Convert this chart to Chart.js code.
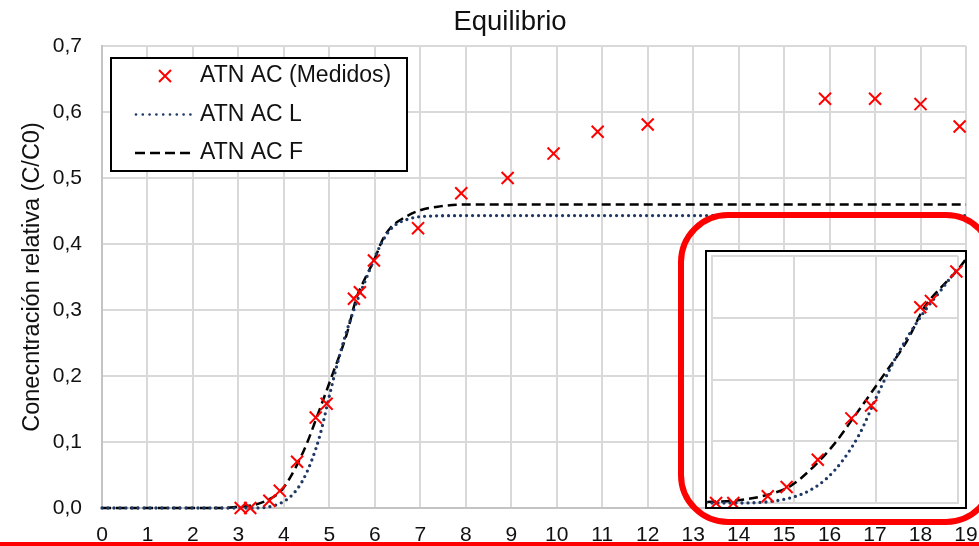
<!DOCTYPE html>
<html><head><meta charset="utf-8">
<script src="https://cdn.jsdelivr.net/npm/chart.js@4.4.0/dist/chart.umd.min.js"></script>
<style>
html,body{margin:0;padding:0;background:#fff;overflow:hidden;width:979px;height:546px;}
#wrap{position:relative;width:979px;height:546px;overflow:hidden;}
#main{position:absolute;left:0;top:0;}
#insetBox{position:absolute;left:705px;top:250px;width:262px;height:259px;border:2px solid #000;box-sizing:border-box;background:#fff;}
#inset{position:absolute;left:0;top:0;}
#redRect{position:absolute;left:678px;top:212px;width:318px;height:313px;border:6.5px solid #ff0000;border-radius:50px;box-sizing:border-box;}
#redLine{position:absolute;left:0;top:542px;width:979px;height:4px;background:#ff0000;}
</style></head>
<body><div id="wrap">
<canvas id="main" width="979" height="546"></canvas>
<div id="insetBox"><canvas id="inset" width="258" height="255"></canvas></div>
<div id="redRect"></div>
<div id="redLine"></div>
</div>
<script>
// ---- data ----
const measX = [3.05, 3.26, 3.68, 3.91, 4.29, 4.70, 4.94, 5.54, 5.67, 5.98, 6.95, 7.90, 8.92, 9.93, 10.90, 12.00, 15.90, 17.00, 18.00, 18.86];
const measY = [0.000, 0.000, 0.011, 0.026, 0.070, 0.137, 0.158, 0.317, 0.327, 0.375, 0.424, 0.477, 0.500, 0.537, 0.570, 0.581, 0.620, 0.620, 0.612, 0.578];

const lX = [0, 3.0, 3.3, 3.6, 3.8, 4.0, 4.2, 4.4, 4.6, 4.8, 5.0, 5.2, 5.4, 5.6, 5.8, 6.0, 6.2, 6.4, 6.7, 7.1, 8.0, 19];
const lY = [0, 0.000, 0.000, 0.001, 0.004, 0.010, 0.021, 0.040, 0.070, 0.112, 0.170, 0.225, 0.272, 0.312, 0.346, 0.380, 0.408, 0.426, 0.437, 0.442, 0.443, 0.443];

const fX = [0, 2.6, 3.0, 3.3, 3.67, 3.95, 4.24, 4.5, 4.72, 5.05, 5.38, 5.59, 5.8, 5.98, 6.18, 6.35, 6.55, 6.99, 7.43, 8.0, 19];
const fY = [0, 0.000, 0.002, 0.004, 0.013, 0.027, 0.059, 0.097, 0.137, 0.199, 0.263, 0.317, 0.350, 0.375, 0.408, 0.425, 0.436, 0.451, 0.457, 0.460, 0.460];

const seriesNames = ['ATN AC (Medidos)', 'ATN AC L', 'ATN AC F'];
const chartTitle = 'Equilibrio';
const yAxisTitle = 'Conecntración relativa (C/C0)';
const xRange = [0, 19];
const yRange = [0, 0.7];
const insetXRange = [3, 6];
const insetYRange = [0, 0.4];

// ---- helpers ----
const FONT = "'Liberation Sans', Arial, sans-serif";
const pts = (xs, ys) => xs.map((x, i) => ({x: x, y: ys[i]}));
const RED = '#ff0000', NAVY = '#1f3864', BLACK = '#000000';

function makeDatasets(clip) {
  return [
    {label: seriesNames[0], data: pts(measX, measY), showLine: false,
     pointStyle: 'crossRot', pointRadius: 8.5, pointHoverRadius: 8.5,
     borderColor: RED, backgroundColor: RED, pointBorderWidth: 2, borderWidth: 2, clip: clip},
    {label: seriesNames[1], data: pts(lX, lY), showLine: true, pointRadius: 0,
     borderColor: NAVY, borderWidth: 3.3, borderDash: [0, 6], borderCapStyle: 'round',
     cubicInterpolationMode: 'monotone', fill: false, clip: clip},
    {label: seriesNames[2], data: pts(fX, fY), showLine: true, pointRadius: 0,
     borderColor: BLACK, borderWidth: 2.5, borderDash: [9, 5], borderCapStyle: 'butt',
     cubicInterpolationMode: 'monotone', fill: false, clip: clip}
  ];
}

const commaFmt = v => Number(v).toFixed(1).replace('.', ',');

// boxed legend inside the plot
const boxLegend = {
  id: 'boxLegend',
  afterDraw(chart) {
    const ctx = chart.ctx;
    const ds = chart.data.datasets;
    ctx.save();
    ctx.fillStyle = '#fff';
    ctx.fillRect(111, 58, 296, 113);
    ctx.lineWidth = 2;
    ctx.strokeStyle = '#000';
    ctx.strokeRect(111, 58, 296, 113);
    const rows = [76, 114.5, 153];
    ctx.strokeStyle = ds[0].borderColor; ctx.lineWidth = 2;
    const cx = 165, cy = rows[0], r = 6;
    ctx.beginPath();
    ctx.moveTo(cx - r, cy - r); ctx.lineTo(cx + r, cy + r);
    ctx.moveTo(cx + r, cy - r); ctx.lineTo(cx - r, cy + r);
    ctx.stroke();
    ctx.strokeStyle = ds[1].borderColor; ctx.lineWidth = 2.7; ctx.lineCap = 'round';
    ctx.setLineDash([0, 6.8]);
    ctx.beginPath(); ctx.moveTo(136, rows[1]); ctx.lineTo(191, rows[1]); ctx.stroke();
    ctx.strokeStyle = ds[2].borderColor; ctx.lineWidth = 2.5; ctx.lineCap = 'butt';
    ctx.setLineDash([10, 5]);
    ctx.beginPath(); ctx.moveTo(135, rows[2]); ctx.lineTo(191, rows[2]); ctx.stroke();
    ctx.setLineDash([]);
    ctx.fillStyle = '#111';
    ctx.font = '23px ' + FONT;
    ctx.textBaseline = 'middle';
    ctx.textAlign = 'left';
    ds.forEach((d, i) => ctx.fillText(d.label, 200, rows[i]));
    ctx.restore();
  }
};

const shiftTitle = {
  id: 'shiftTitle',
  afterLayout(chart) {
    if (chart.titleBlock) { chart.titleBlock.left += 27; chart.titleBlock.right += 27; }
  }
};

const GRID = '#d9d9d9';

new Chart(document.getElementById('main'), {
  type: 'scatter',
  data: {datasets: makeDatasets(10)},
  options: {
    responsive: false, animation: false, devicePixelRatio: 1,
    layout: {autoPadding: false, padding: {left: 0, right: 13, top: 0, bottom: 0}},
    plugins: {
      legend: {display: false},
      tooltip: {enabled: false},
      title: {display: true, text: chartTitle, color: '#111',
              font: {family: FONT, size: 27.5, weight: 'normal'}, padding: {top: 6, bottom: 7}}
    },
    scales: {
      x: {type: 'linear', min: xRange[0], max: xRange[1],
          afterFit: s => { s.height = 38; s.paddingLeft = 0; s.paddingRight = 0; },
          ticks: {stepSize: 1, padding: 15, color: '#111', font: {family: FONT, size: 21}, maxRotation: 0, autoSkip: false},
          grid: {color: GRID, lineWidth: 2, drawTicks: false},
          border: {color: '#c4c4c4', width: 2}},
      y: {type: 'linear', min: yRange[0], max: yRange[1],
          afterFit: s => { s.width = 102; s.paddingTop = 0; s.paddingBottom = 0; },
          ticks: {stepSize: 0.1, padding: 20, color: '#111', font: {family: FONT, size: 21}, callback: v => commaFmt(v)},
          grid: {color: GRID, lineWidth: 2, drawTicks: false},
          border: {color: '#c4c4c4', width: 2},
          title: {display: true, text: yAxisTitle, color: '#111', font: {family: FONT, size: 23.5}, padding: {top: 18, bottom: 0}}}
    }
  },
  plugins: [boxLegend, shiftTitle]
});

new Chart(document.getElementById('inset'), {
  type: 'scatter',
  data: {datasets: makeDatasets({left: 8, right: 7, top: 4, bottom: 5})},
  options: {
    responsive: false, animation: false, devicePixelRatio: 1,
    layout: {autoPadding: false, padding: {left: 5, right: 7, top: 4, bottom: 4}},
    plugins: {legend: {display: false}, tooltip: {enabled: false}, title: {display: false}},
    scales: {
      x: {type: 'linear', min: insetXRange[0], max: insetXRange[1],
          afterFit: s => { s.height = 0; s.paddingLeft = 0; s.paddingRight = 0; },
          ticks: {display: false, stepSize: 1},
          grid: {color: GRID, lineWidth: 2, drawTicks: false},
          border: {color: GRID, width: 2}},
      y: {type: 'linear', min: insetYRange[0], max: insetYRange[1],
          afterFit: s => { s.width = 0; s.paddingTop = 0; s.paddingBottom = 0; },
          ticks: {display: false, stepSize: 0.1},
          grid: {color: GRID, lineWidth: 2, drawTicks: false},
          border: {color: GRID, width: 2}}
    }
  }
});
</script>
</body></html>
